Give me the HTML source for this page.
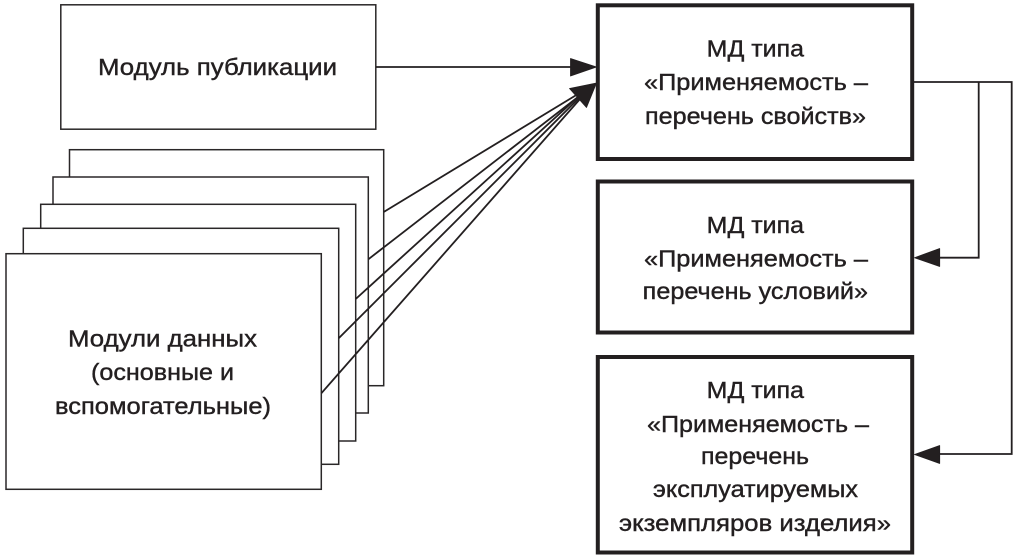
<!DOCTYPE html>
<html><head><meta charset="utf-8"><style>
html,body{margin:0;padding:0;background:#fff;width:1018px;height:559px;overflow:hidden}
svg{display:block}
text{font-family:"Liberation Sans",sans-serif;font-size:23px;fill:#231f20;stroke:#231f20;stroke-width:.4}
</style></head><body>
<svg width="1018" height="559" viewBox="0 0 1018 559" xmlns="http://www.w3.org/2000/svg">
<g fill="#fff" stroke="#2a2728" stroke-width="1.5">
<rect x="60.8" y="4.8" width="315" height="124.4"/>
<rect x="69.5" y="149.7" width="314.2" height="236"/>
<rect x="53" y="177" width="315.3" height="236"/>
<rect x="40.7" y="204.3" width="315" height="236.7"/>
<rect x="23.3" y="228.3" width="315.4" height="236"/>
<rect x="6" y="253.7" width="315.3" height="235.6"/>
</g>
<g stroke="#231f20" stroke-width="1.8" fill="none">
<line x1="376" y1="67" x2="572" y2="67"/>
<line x1="383.7" y1="212" x2="578" y2="94"/>
<line x1="368.3" y1="259.3" x2="578" y2="97"/>
<line x1="355.7" y1="299" x2="578" y2="97"/>
<line x1="338.7" y1="338.3" x2="579" y2="98"/>
<line x1="321.3" y1="393.3" x2="580" y2="99"/>
<polyline points="913,82 1011.7,82 1011.7,454 938,454"/>
<polyline points="978.7,82 978.7,257.7 938,257.7"/>
</g>
<g fill="#231f20" stroke="#231f20" stroke-width=".8" stroke-linejoin="round">
<polygon points="570.5,58.5 596.5,67 570.5,76"/>
<polygon points="596.5,83 569.5,88.5 586.5,107.5"/>
<polygon points="914.5,257.7 939.7,248.5 939.7,266.5"/>
<polygon points="914.5,454.5 939.7,445.5 939.7,463.5"/>
</g>
<g fill="none" stroke="#231f20" stroke-width="4">
<rect x="597.8" y="5.3" width="314.4" height="153.7"/>
<rect x="597.8" y="181.5" width="314.4" height="151"/>
<rect x="597.8" y="357" width="314.4" height="195.5"/>
</g>
<g>
<text x="98" y="75" textLength="239" lengthAdjust="spacingAndGlyphs">Модуль публикации</text>
<text x="68" y="346.7" textLength="189" lengthAdjust="spacingAndGlyphs">Модули данных</text>
<text x="91" y="380" textLength="143" lengthAdjust="spacingAndGlyphs">(основные и</text>
<text x="55" y="414" textLength="216" lengthAdjust="spacingAndGlyphs">вспомогательные)</text>

<text x="706.7" y="56.7" textLength="97.3" lengthAdjust="spacingAndGlyphs">МД типа</text>
<text x="644" y="90" textLength="224" lengthAdjust="spacingAndGlyphs">«Применяемость –</text>
<text x="645" y="124" textLength="221" lengthAdjust="spacingAndGlyphs">перечень свойств»</text>

<text x="706.7" y="233" textLength="97.3" lengthAdjust="spacingAndGlyphs">МД типа</text>
<text x="644" y="266.7" textLength="224" lengthAdjust="spacingAndGlyphs">«Применяемость –</text>
<text x="642.7" y="299" textLength="225.3" lengthAdjust="spacingAndGlyphs">перечень условий»</text>

<text x="706.7" y="398" textLength="97.3" lengthAdjust="spacingAndGlyphs">МД типа</text>
<text x="647" y="432" textLength="222" lengthAdjust="spacingAndGlyphs">«Применяемость –</text>
<text x="701" y="464" textLength="108" lengthAdjust="spacingAndGlyphs">перечень</text>
<text x="653" y="497" textLength="205" lengthAdjust="spacingAndGlyphs">эксплуатируемых</text>
<text x="619" y="531" textLength="272" lengthAdjust="spacingAndGlyphs">экземпляров изделия»</text>
</g>
</svg>
</body></html>
